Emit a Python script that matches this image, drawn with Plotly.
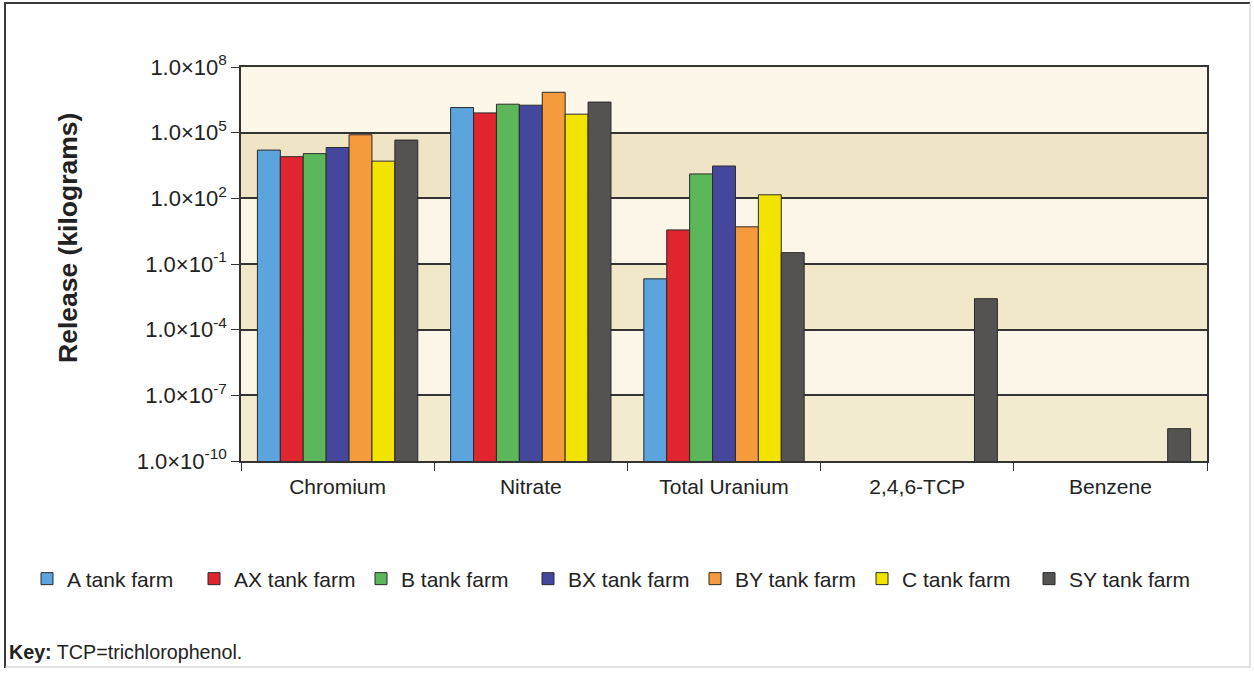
import plotly.graph_objects as go

# Contaminant groups on the x axis
categories = ["Chromium", "Nitrate", "Total Uranium", "2,4,6-TCP", "Benzene"]

# Release (kg) for each tank farm; None where nothing is reported
a_farm = [1.6e4, 1.4e6, 2.1e-2, None, None]
ax_farm = [8.0e3, 8.0e5, 3.6, None, None]
b_farm = [1.1e4, 2.0e6, 1.3e3, None, None]
bx_farm = [2.1e4, 1.8e6, 3.0e3, None, None]
by_farm = [8.0e4, 7.0e6, 5.0, None, None]
c_farm = [5.0e3, 7.0e5, 1.45e2, None, None]
sy_farm = [4.6e4, 2.5e6, 3.3e-1, 2.6e-3, 3.0e-9]

series_names = ["A tank farm", "AX tank farm", "B tank farm", "BX tank farm",
                "BY tank farm", "C tank farm", "SY tank farm"]
series_values = [a_farm, ax_farm, b_farm, bx_farm, by_farm, c_farm, sy_farm]
series_colors = ["#5ba4dd", "#e1252f", "#5cb65a", "#45479c",
                 "#f59b3d", "#f3e400", "#555351"]

# Log-axis tick positions and their labels
tick_values = [1e8, 1e5, 1e2, 1e-1, 1e-4, 1e-7, 1e-10]
tick_labels = ["1.0×10<sup>8</sup>", "1.0×10<sup>5</sup>", "1.0×10<sup>2</sup>",
               "1.0×10<sup>-1</sup>", "1.0×10<sup>-4</sup>", "1.0×10<sup>-7</sup>",
               "1.0×10<sup>-10</sup>"]

FONT = "Liberation Sans, Arial, sans-serif"
INK = "#222222"

fig = go.Figure()
for name, vals, col in zip(series_names, series_values, series_colors):
    fig.add_trace(go.Bar(
        x=categories, y=vals, name=name,
        marker=dict(color=col, line=dict(color="#2a2a2a", width=1)),
    ))

# Alternating beige bands between the gridlines (six equal bands)
band_colors = ["#fdf7e9", "#efe5c6", "#fcf6e8", "#f1e7c9", "#fcf6e9", "#f3ebcf"]
shapes = []
for i, bc in enumerate(band_colors):
    shapes.append(dict(type="rect", xref="paper", yref="paper",
                       x0=0, x1=1, y0=1 - (i + 1) / 6, y1=1 - i / 6,
                       fillcolor=bc, line=dict(width=0), layer="below"))

# Outer frame of the figure
W, H = 1254, 673
L, R, T, B = 241, 1207, 67, 461
def px(x):
    return (x - L) / (R - L)
def py(y):
    return (B - y) / (B - T)
shapes += [
    dict(type="line", xref="paper", yref="paper", x0=px(4), x1=px(1250), y0=py(3), y1=py(3),
         line=dict(color="#3a3a3a", width=2)),
    dict(type="line", xref="paper", yref="paper", x0=px(5), x1=px(5), y0=py(3), y1=py(668),
         line=dict(color="#3a3a3a", width=2)),
    dict(type="line", xref="paper", yref="paper", x0=px(1250), x1=px(1250), y0=py(3), y1=py(668),
         line=dict(color="#c8c8c8", width=1)),
    dict(type="line", xref="paper", yref="paper", x0=px(5), x1=px(1250), y0=py(667), y1=py(667),
         line=dict(color="#c8c8c8", width=1)),
]

annotations = [
    dict(text="<b>Release (kilograms)</b>", xref="paper", yref="paper",
         x=px(68), y=py(238), textangle=-90, showarrow=False,
         font=dict(family=FONT, size=26.5, color=INK), xanchor="center", yanchor="middle"),
    dict(text="<b>Key:</b> TCP=trichlorophenol.", xref="paper", yref="paper",
         x=px(7), y=py(652), showarrow=False, xanchor="left", yanchor="middle",
         font=dict(family=FONT, size=19.7, color=INK)),
]

fig.update_layout(
    width=W, height=H,
    margin=dict(l=L, r=W - R, t=T, b=H - B),
    paper_bgcolor="#ffffff",
    plot_bgcolor="#fdf7e9",
    barmode="group", bargap=0.17, bargroupgap=0,
    font=dict(family=FONT, size=21, color=INK),
    shapes=shapes, annotations=annotations,
    legend=dict(orientation="h", x=px(27), y=py(579), xanchor="left", yanchor="middle",
                font=dict(family=FONT, size=21, color=INK), traceorder="normal",
                entrywidth=122, entrywidthmode="pixels",
                bgcolor="rgba(0,0,0,0)"),
    showlegend=True,
)
fig.update_xaxes(
    type="category", tickson="boundaries", ticks="outside", ticklen=8,
    tickcolor="#333333", showline=True, linecolor="#333333", linewidth=1.5,
    mirror=True, showgrid=False, tickfont=dict(family=FONT, size=21, color=INK),
    ticklabelstandoff=6,
)
fig.update_yaxes(
    type="log", range=[-10, 8], tickvals=tick_values, ticktext=tick_labels,
    ticks="outside", ticklen=8, tickcolor="#333333",
    showline=True, linecolor="#333333", linewidth=1.5, mirror=True,
    showgrid=True, gridcolor="#333333", gridwidth=1.5, zeroline=False,
    tickfont=dict(family=FONT, size=22, color=INK),
)

fig.write_html("out.html")
